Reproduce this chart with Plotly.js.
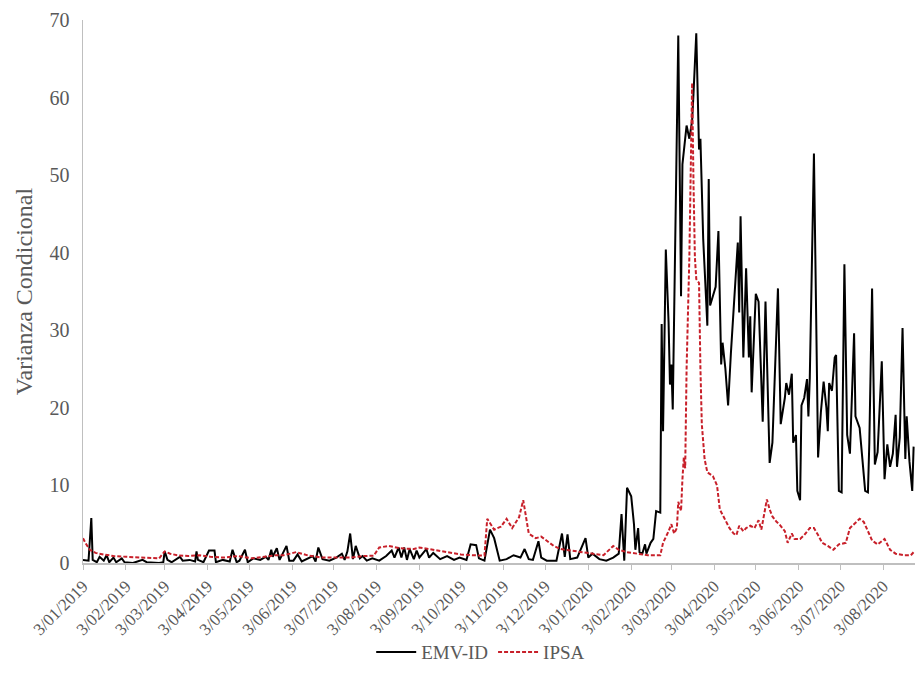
<!DOCTYPE html>
<html>
<head>
<meta charset="utf-8">
<script src="https://cdn.plot.ly/plotly-3.0.1.min.js"></script>
<style>html,body{margin:0;padding:0;background:#fff;}#chart{width:915px;height:687px;}</style>
</head>
<body>
<div id="chart"></div>
<script>
// ---- EMV-ID series ----
const emvDates = [
"2019-01-03","2019-01-07","2019-01-09","2019-01-10","2019-01-13","2019-01-15","2019-01-18","2019-01-20","2019-01-22","2019-01-25",
"2019-01-27","2019-01-31","2019-02-02","2019-02-08","2019-02-15","2019-02-18","2019-02-27","2019-03-02","2019-03-03","2019-03-05",
"2019-03-08","2019-03-14","2019-03-16","2019-03-21","2019-03-25","2019-03-26","2019-03-27","2019-03-31","2019-04-04","2019-04-08",
"2019-04-09","2019-04-14","2019-04-19","2019-04-21","2019-04-24","2019-04-26","2019-04-30","2019-05-02","2019-05-06","2019-05-11",
"2019-05-15","2019-05-17","2019-05-19","2019-05-20","2019-05-23","2019-05-25","2019-05-30","2019-06-01","2019-06-04","2019-06-07",
"2019-06-10","2019-06-13","2019-06-18","2019-06-20","2019-06-22","2019-06-25","2019-06-30","2019-07-05","2019-07-09","2019-07-11",
"2019-07-13","2019-07-15","2019-07-17","2019-07-19","2019-07-22","2019-07-24","2019-07-27","2019-07-31","2019-08-05","2019-08-10",
"2019-08-14","2019-08-16","2019-08-19","2019-08-21","2019-08-23","2019-08-25","2019-08-27","2019-08-30","2019-09-01","2019-09-03",
"2019-09-08","2019-09-10","2019-09-13","2019-09-18","2019-09-23","2019-09-28","2019-10-02","2019-10-07","2019-10-10","2019-10-14",
"2019-10-16","2019-10-20","2019-10-24","2019-10-27","2019-10-31","2019-11-05","2019-11-10","2019-11-15","2019-11-18","2019-11-21",
"2019-11-24","2019-11-28","2019-11-30","2019-12-04","2019-12-11","2019-12-15","2019-12-17","2019-12-19","2019-12-21","2019-12-26",
"2020-01-01","2020-01-03","2020-01-06","2020-01-11","2020-01-16","2020-01-21","2020-01-25","2020-01-27","2020-01-29","2020-01-31",
"2020-02-03","2020-02-05","2020-02-06","2020-02-08","2020-02-09","2020-02-11","2020-02-13","2020-02-14","2020-02-17","2020-02-19",
"2020-02-21","2020-02-24","2020-02-25","2020-02-26","2020-02-28","2020-03-01","2020-03-02","2020-03-03","2020-03-04","2020-03-08",
"2020-03-10","2020-03-11","2020-03-14","2020-03-16","2020-03-18","2020-03-19","2020-03-21","2020-03-23","2020-03-24","2020-03-26",
"2020-03-29","2020-03-30","2020-03-31","2020-04-04","2020-04-06","2020-04-08","2020-04-09","2020-04-11","2020-04-13","2020-04-15",
"2020-04-18","2020-04-20","2020-04-21","2020-04-22","2020-04-24","2020-04-26","2020-04-28","2020-04-29","2020-04-30","2020-05-03",
"2020-05-05","2020-05-07","2020-05-08","2020-05-10","2020-05-12","2020-05-13","2020-05-15","2020-05-18","2020-05-19","2020-05-21",
"2020-05-24","2020-05-25","2020-05-27","2020-05-29","2020-05-30","2020-06-01","2020-06-02","2020-06-04","2020-06-05","2020-06-07",
"2020-06-09","2020-06-10","2020-06-11","2020-06-14","2020-06-16","2020-06-17","2020-06-19","2020-06-21","2020-06-23","2020-06-24",
"2020-06-25","2020-06-27","2020-06-29","2020-06-30","2020-07-02","2020-07-04","2020-07-06","2020-07-08","2020-07-10","2020-07-11",
"2020-07-13","2020-07-14","2020-07-17","2020-07-19","2020-07-21","2020-07-23","2020-07-24","2020-07-26","2020-07-28","2020-07-30",
"2020-08-02","2020-08-04","2020-08-06","2020-08-08","2020-08-10","2020-08-12","2020-08-13","2020-08-15","2020-08-17","2020-08-19",
"2020-08-20","2020-08-22","2020-08-24","2020-08-25"
];
const emvValues = [
0.4,0.3,5.8,0.4,0.1,0.8,0.3,1.0,0.1,0.7,
0.1,0.6,0.1,0.0,0.4,0.1,0.0,0.1,1.5,0.4,
0.1,0.8,0.3,0.4,0.2,1.5,0.4,0.1,1.6,1.6,
0.1,0.4,0.2,1.7,0.1,0.3,1.7,0.1,0.6,0.4,
0.8,0.4,1.7,0.8,1.9,0.4,2.2,0.3,0.3,1.1,
0.2,0.5,0.9,0.2,2.0,0.5,0.3,0.7,1.2,0.4,
1.5,3.8,0.5,2.2,0.6,0.9,0.3,0.6,0.3,0.9,
1.6,0.7,2.0,0.7,2.0,0.4,1.8,0.5,1.6,0.7,
1.8,0.7,1.3,0.5,0.9,0.4,0.7,0.4,2.4,2.3,
0.6,0.3,4.3,3.2,0.3,0.5,1.0,0.7,1.8,0.5,
0.4,2.8,0.7,0.3,0.3,3.8,0.8,3.7,0.5,0.7,
3.2,0.7,1.2,0.5,0.3,0.7,1.2,6.3,0.3,9.7,
8.6,5.0,1.7,4.5,1.4,1.2,2.4,1.2,2.6,3.1,
6.7,6.5,30.8,17.0,40.4,31.0,23.0,25.6,19.8,68.0,
34.4,51.4,56.4,54.7,57.0,60.5,68.3,53.3,54.7,41.8,
30.6,49.5,33.2,35.6,42.8,25.6,28.4,25.1,20.3,27.0,
35.0,41.3,32.3,44.7,26.5,38.0,26.5,31.8,22.0,34.7,
33.7,23.7,18.2,33.7,19.4,12.9,15.5,29.9,35.4,17.9,
21.3,23.2,21.7,24.4,15.5,16.5,9.3,8.1,20.3,21.3,
23.7,18.9,23.9,52.8,28.4,13.6,19.4,23.4,20.0,17.0,
23.2,22.2,26.5,26.8,9.3,9.1,38.5,16.5,14.1,19.1,
29.6,18.9,17.4,13.4,9.3,9.1,15.5,35.4,12.7,14.3,
26.0,10.8,15.3,12.4,14.1,19.1,12.4,16.2,30.3,13.4,
18.9,13.1,9.3,15.0
];

// ---- IPSA series ----
const ipsaDates = [
"2019-01-03","2019-01-05","2019-01-08","2019-01-12","2019-01-18","2019-01-25","2019-02-03","2019-02-12","2019-02-20","2019-02-27",
"2019-03-03","2019-03-07","2019-03-12","2019-03-20","2019-03-28","2019-04-05","2019-04-15","2019-04-25","2019-05-05","2019-05-15",
"2019-05-22","2019-05-28","2019-06-06","2019-06-15","2019-06-25","2019-07-05","2019-07-15","2019-07-25","2019-08-01","2019-08-05",
"2019-08-12","2019-08-20","2019-08-30","2019-09-03","2019-09-10","2019-09-18","2019-09-25","2019-10-03","2019-10-12","2019-10-20",
"2019-10-22","2019-10-27","2019-11-01","2019-11-05","2019-11-09","2019-11-14","2019-11-17","2019-11-21","2019-11-26","2019-11-30",
"2019-12-03","2019-12-09","2019-12-14","2019-12-21","2019-12-28","2020-01-06","2020-01-14","2020-01-21","2020-01-25","2020-01-31",
"2020-02-08","2020-02-15","2020-02-24","2020-02-26","2020-03-01","2020-03-03","2020-03-05","2020-03-07","2020-03-08","2020-03-10",
"2020-03-11","2020-03-12","2020-03-13","2020-03-14","2020-03-16","2020-03-17","2020-03-18","2020-03-19","2020-03-20","2020-03-21",
"2020-03-23","2020-03-24","2020-03-25","2020-03-27","2020-03-29","2020-04-02","2020-04-05","2020-04-07","2020-04-11","2020-04-14",
"2020-04-17","2020-04-19","2020-04-21","2020-04-24","2020-04-26","2020-04-29","2020-05-02","2020-05-05","2020-05-07","2020-05-09",
"2020-05-11","2020-05-13","2020-05-15","2020-05-18","2020-05-20","2020-05-24","2020-05-26","2020-05-29","2020-05-31","2020-06-04",
"2020-06-07","2020-06-11","2020-06-14","2020-06-17","2020-06-20","2020-06-24","2020-06-28","2020-07-02","2020-07-07","2020-07-10",
"2020-07-13","2020-07-17","2020-07-20","2020-07-23","2020-07-26","2020-07-30","2020-08-04","2020-08-08","2020-08-12","2020-08-18",
"2020-08-23","2020-08-25"
];
const ipsaValues = [
3.2,2.5,1.7,1.3,1.1,0.9,0.8,0.7,0.6,0.6,
1.5,1.2,1.0,0.9,1.0,0.8,0.7,0.9,0.6,0.8,
1.0,1.0,1.4,0.95,0.7,0.7,0.7,0.9,0.95,2.0,
2.2,1.9,1.8,2.0,1.8,1.6,1.4,1.1,1.0,0.95,
5.7,4.3,4.7,5.7,4.5,5.9,8.1,3.8,3.2,3.4,
3.0,2.2,1.8,1.6,1.4,1.2,1.0,2.2,1.7,1.4,
1.2,1.0,1.0,2.6,4.1,5.0,3.8,4.5,7.9,6.7,
10.8,13.6,12.2,25.0,39.4,53.8,61.9,49.0,39.4,36.6,
36.1,25.1,17.9,13.4,11.7,11.2,10.0,6.9,5.5,4.5,
3.8,3.6,4.8,4.1,4.5,4.8,4.5,5.5,4.3,6.5,
8.2,6.9,6.0,5.3,5.0,4.1,2.6,3.8,3.1,3.1,
3.6,4.5,4.5,3.6,2.6,2.2,1.7,2.4,2.6,4.5,
5.0,5.7,5.3,4.1,2.9,2.4,3.1,1.7,1.2,1.0,
1.0,1.4
];

// ---- axis ticks ----
const tickDates = [
"2019-01-03","2019-02-03","2019-03-03","2019-04-03","2019-05-03","2019-06-03","2019-07-03","2019-08-03","2019-09-03","2019-10-03",
"2019-11-03","2019-12-03","2020-01-03","2020-02-03","2020-03-03","2020-04-03","2020-05-03","2020-06-03","2020-07-03","2020-08-03"
];
const tickLabels = [
"3/01/2019","3/02/2019","3/03/2019","3/04/2019","3/05/2019","3/06/2019","3/07/2019","3/08/2019","3/09/2019","3/10/2019",
"3/11/2019","3/12/2019","3/01/2020","3/02/2020","3/03/2020","3/04/2020","3/05/2020","3/06/2020","3/07/2020","3/08/2020"
];
const yTicks = [0, 10, 20, 30, 40, 50, 60, 70];
const seriesNames = ["EMV-ID", "IPSA"];

const gray = "#595959";
const serif = "Liberation Serif, Times New Roman, serif";

const traces = [
  {x: emvDates, y: emvValues, name: seriesNames[0], type: "scatter", mode: "lines",
   line: {color: "#000000", width: 2}},
  {x: ipsaDates, y: ipsaValues, name: seriesNames[1], type: "scatter", mode: "lines",
   line: {color: "#C8202A", width: 2, dash: "4px,2px"}}
];

const layout = {
  width: 915, height: 687,
  margin: {l: 83, r: 0, t: 20, b: 124},
  paper_bgcolor: "#ffffff", plot_bgcolor: "#ffffff",
  font: {family: serif, color: gray},
  showlegend: true,
  legend: {orientation: "h", x: 0.478, xanchor: "center", y: -0.164, yanchor: "middle",
           font: {family: serif, size: 19, color: gray}, itemwidth: 40, tracegroupgap: 0},
  xaxis: {
    type: "date", range: ["2019-01-03", "2020-08-26"],
    tickvals: tickDates, ticktext: tickLabels, tickangle: -45,
    tickfont: {family: serif, size: 17, color: gray},
    showline: true, linecolor: "#bfbfbf", linewidth: 1.5,
    ticks: "outside", ticklen: 5, tickcolor: "#bfbfbf", tickwidth: 1,
    showgrid: false, zeroline: false, fixedrange: true
  },
  yaxis: {
    range: [0, 70], tickvals: yTicks,
    tickfont: {family: serif, size: 20, color: gray},
    showline: true, linecolor: "#bfbfbf", linewidth: 1.5,
    ticks: "", showgrid: false, zeroline: false, ticklabelstandoff: 8,
    title: {text: "Varianza Condicional", font: {family: serif, size: 24, color: gray}, standoff: 10},
    fixedrange: true
  }
};

Plotly.newPlot("chart", traces, layout, {displayModeBar: false, staticPlot: true});
</script>
</body>
</html>
